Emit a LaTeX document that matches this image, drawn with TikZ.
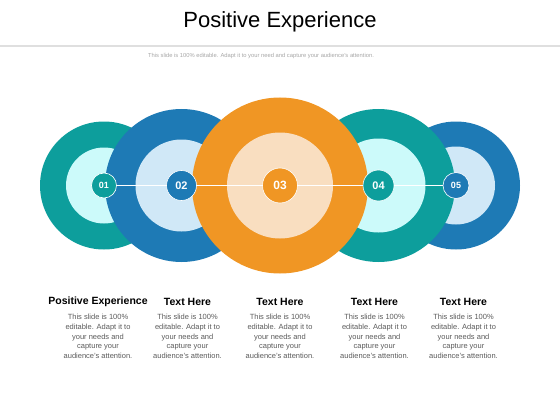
\documentclass[tikz,border=0pt]{standalone}
\usepackage{fontspec}
\usepackage{tikz}
\setmainfont{Liberation Sans}
\definecolor{tealdark}{RGB}{13, 158, 156}
\definecolor{teallight}{RGB}{204, 250, 250}
\definecolor{bluedark}{RGB}{30, 122, 181}
\definecolor{bluelight}{RGB}{208, 232, 247}
\definecolor{orangedark}{RGB}{240, 150, 36}
\definecolor{orangelight}{RGB}{249, 222, 192}
\definecolor{bodygray}{RGB}{90, 90, 90}

\begin{document}
\begin{tikzpicture}[x=1pt, y=-1pt,
    ring/.style={circle, inner sep=0pt, outer sep=0pt},
    numdot/.style={circle, inner sep=0pt, draw=white, line width=0.6pt,
                   text=white, font=\bfseries},
    heading/.style={font=\fontsize{10.5}{12}\selectfont\bfseries, text=black},
    bodytext/.style={font=\fontsize{7.5}{9.7}\selectfont, text=bodygray,
                     align=center, inner sep=0pt}]
  \useasboundingbox (0,0) rectangle (560,420);
  % Label: title and subtitle
  \node[font=\fontsize{22}{26}\selectfont] (title) at (280,22) {Positive Experience};
  \shade[left color=gray!25, middle color=black!85, right color=gray!25]
    (0,45.2) rectangle (560,46.8);
  \node[font=\fontsize{5.8}{7}\selectfont, text=gray!70] (subtitle) at (261,56)
    {This slide is 100\% editable. Adapt it to your need and capture your audience's attention.};
  % rings, drawn back to front
  \foreach \n/\x/\ro/\ri/\dark/\light in {
      1/104/64/38/tealdark/teallight,
      5/456/64/39/bluedark/bluelight,
      2/181.5/76.5/46/bluedark/bluelight,
      4/378.5/76.5/47/tealdark/teallight,
      3/280/88/53/orangedark/orangelight} {
    \node[ring, fill=\dark, minimum size=2*\ro] (outer\n) at (\x,185.5) {};
    \node[ring, fill=\light, minimum size=2*\ri] (inner\n) at (\x,185.5) {};
  }
  % numbered dots
  \foreach \n/\x/\rn/\col/\fs in {
      1/104/12.5/tealdark/9, 2/181.5/15/bluedark/11, 3/280/17.5/orangedark/12,
      4/378.5/15.5/tealdark/11, 5/456/13/bluedark/9} {
    \node[numdot, fill=\col, minimum size=2*\rn,
          font=\fontsize{\fs}{\fs}\selectfont\bfseries] (num\n) at (\x,185.5) {0\n};
  }
  % white links between dots
  \foreach \a/\b in {1/2, 2/3, 3/4, 4/5} {
    \draw[white, line width=0.7pt] (num\a) -- (num\b);
  }
  % headings and texts below
  \foreach \n/\x/\head in {1/98/Positive Experience, 2/187.5/Text Here,
      3/280/Text Here, 4/374.5/Text Here, 5/463.5/Text Here} {
    \node[heading] (head\n) at (\x,301.5) {\head};
    \node[bodytext, anchor=north] (body\n) at (\x,314)
      {This slide is 100\%\\editable. Adapt it to\\your needs and\\capture your\\audience's attention.};
  }
\end{tikzpicture}
\end{document}
